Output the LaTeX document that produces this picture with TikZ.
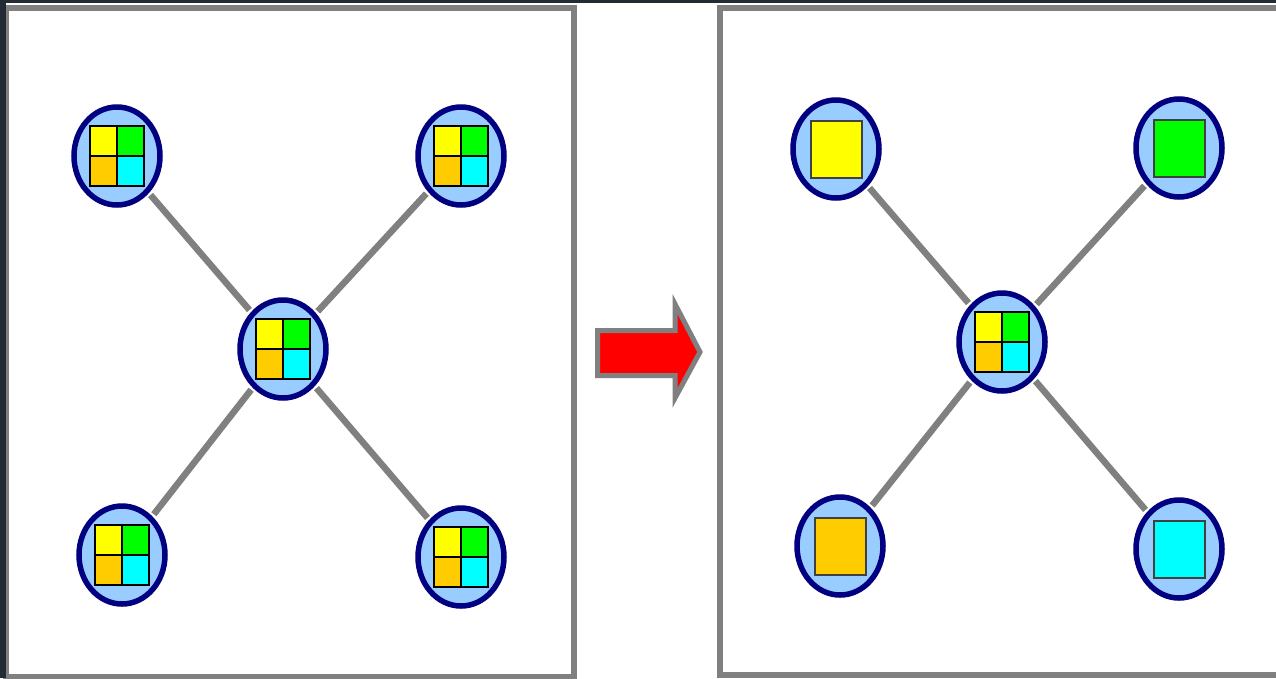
\documentclass[tikz,border=0pt]{standalone}
\usepackage{tikz}
\usetikzlibrary{shapes.geometric}
\usetikzlibrary{positioning}
\definecolor{slate}{RGB}{35, 43, 52}
\definecolor{framegray}{RGB}{128, 128, 128}
\definecolor{skyblue}{RGB}{153, 204, 255}
\definecolor{navyblue}{RGB}{0, 0, 128}
\definecolor{lemon}{RGB}{255, 255, 0}
\definecolor{lime}{RGB}{0, 255, 0}
\definecolor{amber}{RGB}{255, 204, 0}
\definecolor{aqua}{RGB}{0, 255, 255}
\definecolor{arrowred}{RGB}{255, 0, 0}
\tikzset{
    host/.style  = {ellipse, draw=navyblue, fill=skyblue, line width=5.5pt,
                    minimum width=86pt, minimum height=98pt, inner sep=0pt},
    link/.style  = {draw=framegray, line width=6.5pt, shorten <=2.5pt, shorten >=2.5pt},
    frame/.style = {draw=framegray, line width=6pt},
    cell/.style  = {draw=black, line width=1.8pt},
    chunk/.style = {rectangle, draw=black!75, line width=2pt, minimum width=51pt,
                    minimum height=57pt, inner sep=0pt}
}
% 2x2 block of colours at a node
\newcommand{\quadgrid}[1]{%
    \begin{scope}[shift={(#1)}]
        \filldraw[cell, fill=lemon] (-27,-30) rectangle ( 0, 0);
        \filldraw[cell, fill=lime]  (  0,-30) rectangle (27, 0);
        \filldraw[cell, fill=amber] (-27,  0) rectangle ( 0,30);
        \filldraw[cell, fill=aqua]  (  0,  0) rectangle (27,30);
    \end{scope}}
\begin{document}
\begin{tikzpicture}[x=1pt, y=-1pt]
    % Page and panels:
    \useasboundingbox                                  (0, 0)      rectangle (1276, 678);
    \fill[white]                                        (0, 0)      rectangle (1276, 678);
    \draw[frame]                                        (6, 7.5)    rectangle ( 574, 677);
    \draw[frame]                                        (720, 7.5)  rectangle (1290, 675);
    \fill[slate]                                        (0, 0)      rectangle (1276, 3);
    \fill[slate]                                        (0, 0)      rectangle (   6, 678);

    % Before: every site holds all four parts
    \node[host] (hubA) at (283, 349) {};
    \node[host] (nwA)  at (117, 156) {};
    \node[host] (neA)  at (461, 156) {};
    \node[host] (swA)  at (122, 555) {};
    \node[host] (seA)  at (461, 557) {};
    \foreach \n in {nwA, neA, swA, seA}
        \draw[link] (hubA) -- (\n);
    \foreach \n in {hubA, nwA, neA, swA, seA}
        \quadgrid{\n};

    % Arrow between the panels
    \filldraw[draw=framegray, fill=arrowred, line width=5pt, line join=miter]
        (597.5, 330.5) -- (675, 330.5) -- (675, 304) -- (700, 352)
        -- (675, 398) -- (675, 375.5) -- (597.5, 375.5) -- cycle;

    % After: one part per site
    \node[host] (hubB) at (1002, 342) {};
    \node[host] (nwB)  at ( 836, 149) {};
    \node[host] (neB)  at (1179, 148) {};
    \node[host] (swB)  at ( 840, 546) {};
    \node[host] (seB)  at (1179, 549) {};
    \foreach \n in {nwB, neB, swB, seB}
        \draw[link] (hubB) -- (\n);
    \quadgrid{hubB};
    \node[chunk, fill=lemon] (partNW) at (nwB) {};
    \node[chunk, fill=lime]  (partNE) at (neB) {};
    \node[chunk, fill=amber] (partSW) at (swB) {};
    \node[chunk, fill=aqua]  (partSE) at (seB) {};
\end{tikzpicture}
\end{document}
